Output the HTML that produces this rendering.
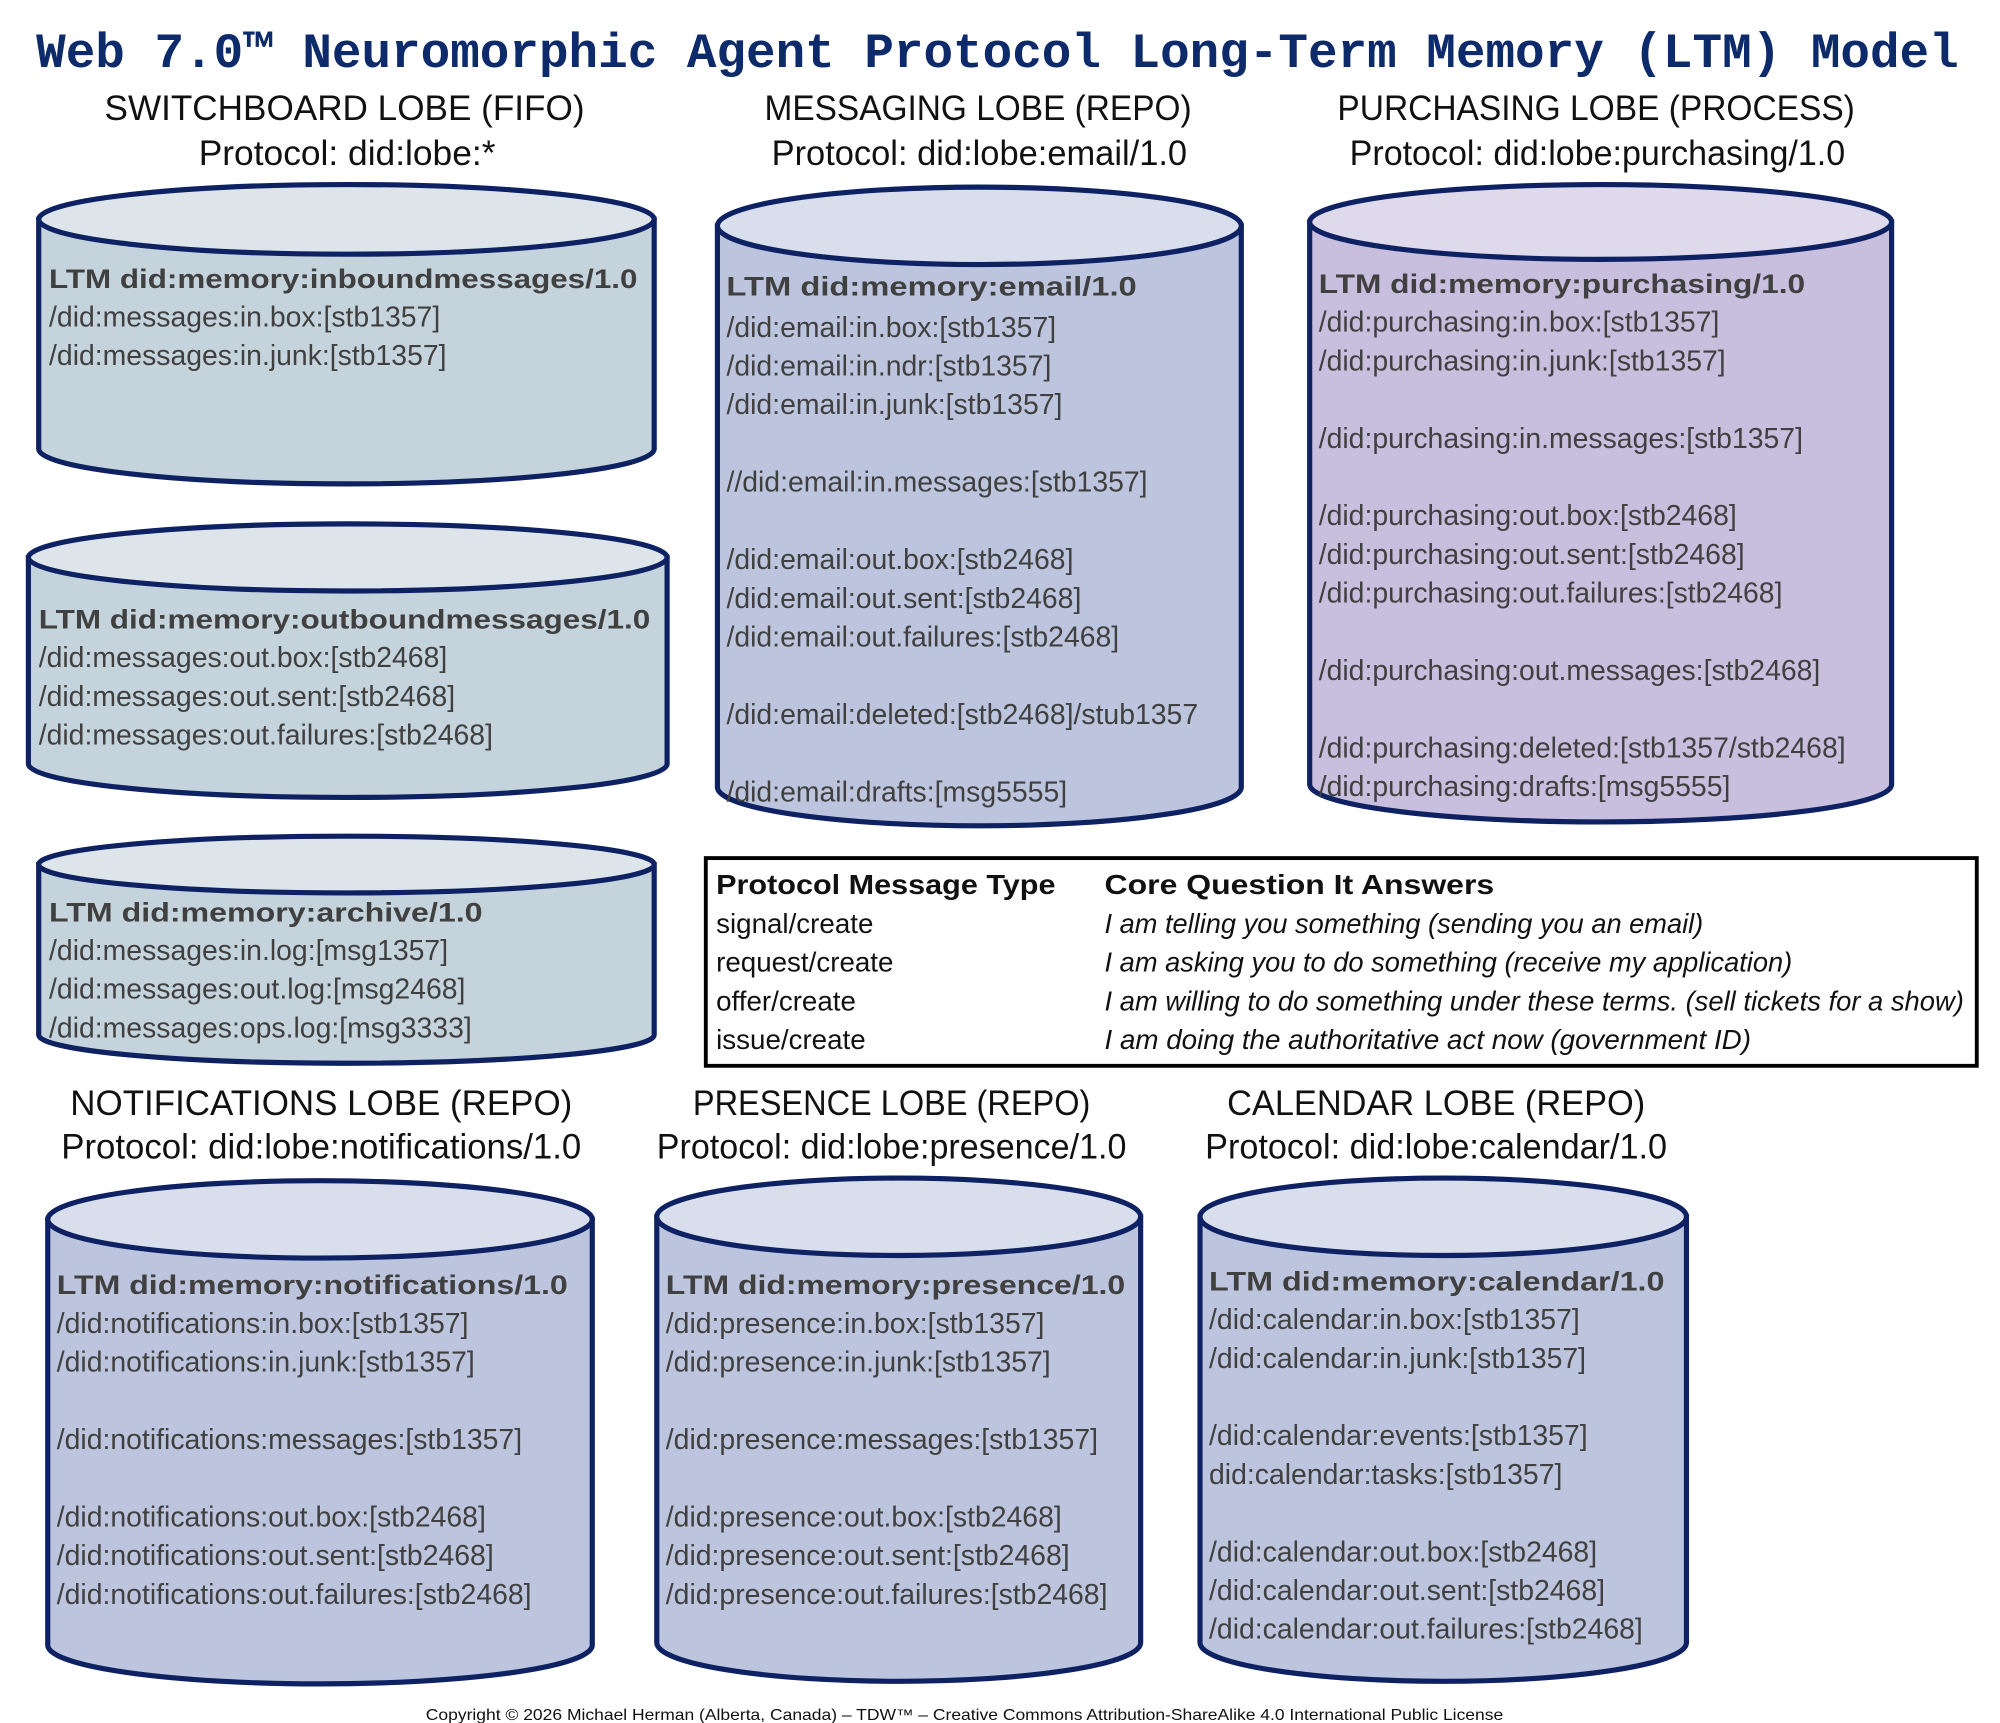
<!DOCTYPE html>
<html><head><meta charset="utf-8"><style>
html,body{margin:0;padding:0;background:#fff;}
svg{display:block;}
.h{font-family:"Liberation Sans",sans-serif;font-size:27px;fill:#111;text-anchor:middle;}
.b{font-family:"Liberation Sans",sans-serif;font-size:21px;font-weight:bold;fill:#404040;}
.t{font-family:"Liberation Sans",sans-serif;font-size:22px;fill:#404040;}
.k{font-family:"Liberation Sans",sans-serif;font-size:21.5px;fill:#111;}
.cyl{stroke:#0e2163;stroke-width:4;}
</style></head><body>
<svg width="2000" height="1723" viewBox="0 0 1550 1335.3" xmlns="http://www.w3.org/2000/svg">
<text x="28" y="52" textLength="1490" lengthAdjust="spacingAndGlyphs" style="font-family:'Liberation Mono',monospace;font-weight:bold;font-size:38px;fill:#0d2a6b;">Web 7.0™ Neuromorphic Agent Protocol Long-Term Memory (LTM) Model</text>

<text class="h" x="267" y="93" textLength="372" lengthAdjust="spacingAndGlyphs">SWITCHBOARD LOBE (FIFO)</text>
<text class="h" x="269" y="128" textLength="230" lengthAdjust="spacingAndGlyphs">Protocol: did:lobe:*</text>
<text class="h" x="758" y="93" textLength="331" lengthAdjust="spacingAndGlyphs">MESSAGING LOBE (REPO)</text>
<text class="h" x="759" y="128" textLength="322" lengthAdjust="spacingAndGlyphs">Protocol: did:lobe:email/1.0</text>
<text class="h" x="1237" y="93" textLength="401" lengthAdjust="spacingAndGlyphs">PURCHASING LOBE (PROCESS)</text>
<text class="h" x="1238" y="128" textLength="384" lengthAdjust="spacingAndGlyphs">Protocol: did:lobe:purchasing/1.0</text>
<text class="h" x="249" y="864" textLength="389" lengthAdjust="spacingAndGlyphs">NOTIFICATIONS LOBE (REPO)</text>
<text class="h" x="249" y="898" textLength="403" lengthAdjust="spacingAndGlyphs">Protocol: did:lobe:notifications/1.0</text>
<text class="h" x="691" y="864" textLength="308" lengthAdjust="spacingAndGlyphs">PRESENCE LOBE (REPO)</text>
<text class="h" x="691" y="898" textLength="364" lengthAdjust="spacingAndGlyphs">Protocol: did:lobe:presence/1.0</text>
<text class="h" x="1113" y="864" textLength="324" lengthAdjust="spacingAndGlyphs">CALENDAR LOBE (REPO)</text>
<text class="h" x="1113" y="898" textLength="358" lengthAdjust="spacingAndGlyphs">Protocol: did:lobe:calendar/1.0</text>

<path class="cyl" fill="#c5d3dc" d="M30,170 L30,348 A238.5,27 0 0 0 507,348 L507,170 Z"/>
<ellipse class="cyl" fill="#dde5ea" cx="268.5" cy="170" rx="238.5" ry="27"/>
<text class="b" x="38" y="223" textLength="456" lengthAdjust="spacingAndGlyphs">LTM did:memory:inboundmessages/1.0</text>
<text class="t" x="38" y="253">/did:messages:in.box:[stb1357]</text>
<text class="t" x="38" y="283">/did:messages:in.junk:[stb1357]</text>

<path class="cyl" fill="#c5d3dc" d="M22,432 L22,592 A247.5,26 0 0 0 517,592 L517,432 Z"/>
<ellipse class="cyl" fill="#dde5ea" cx="269.5" cy="432" rx="247.5" ry="26"/>
<text class="b" x="30" y="487" textLength="474" lengthAdjust="spacingAndGlyphs">LTM did:memory:outboundmessages/1.0</text>
<text class="t" x="30" y="517">/did:messages:out.box:[stb2468]</text>
<text class="t" x="30" y="547">/did:messages:out.sent:[stb2468]</text>
<text class="t" x="30" y="577">/did:messages:out.failures:[stb2468]</text>

<path class="cyl" fill="#c5d3dc" d="M30,670 L30,802 A238.5,22 0 0 0 507,802 L507,670 Z"/>
<ellipse class="cyl" fill="#dde5ea" cx="268.5" cy="670" rx="238.5" ry="22"/>
<text class="b" x="38" y="714" textLength="336" lengthAdjust="spacingAndGlyphs">LTM did:memory:archive/1.0</text>
<text class="t" x="38" y="744">/did:messages:in.log:[msg1357]</text>
<text class="t" x="38" y="774">/did:messages:out.log:[msg2468]</text>
<text class="t" x="38" y="804">/did:messages:ops.log:[msg3333]</text>

<path class="cyl" fill="#bcc5dd" d="M556,175 L556,610 A203,30 0 0 0 962,610 L962,175 Z"/>
<ellipse class="cyl" fill="#d8deeb" cx="759" cy="175" rx="203" ry="30"/>
<text class="b" x="563" y="229" textLength="318" lengthAdjust="spacingAndGlyphs">LTM did:memory:email/1.0</text>
<text class="t" x="563" y="261">/did:email:in.box:[stb1357]</text>
<text class="t" x="563" y="291">/did:email:in.ndr:[stb1357]</text>
<text class="t" x="563" y="321">/did:email:in.junk:[stb1357]</text>
<text class="t" x="563" y="381">//did:email:in.messages:[stb1357]</text>
<text class="t" x="563" y="441">/did:email:out.box:[stb2468]</text>
<text class="t" x="563" y="471">/did:email:out.sent:[stb2468]</text>
<text class="t" x="563" y="501">/did:email:out.failures:[stb2468]</text>
<text class="t" x="563" y="561">/did:email:deleted:[stb2468]/stub1357</text>
<text class="t" x="563" y="621">/did:email:drafts:[msg5555]</text>

<path class="cyl" fill="#c8bedd" d="M1015,172 L1015,608 A225.5,29 0 0 0 1466,608 L1466,172 Z"/>
<ellipse class="cyl" fill="#dedaec" cx="1240.5" cy="172" rx="225.5" ry="29"/>
<text class="b" x="1022" y="227" textLength="377" lengthAdjust="spacingAndGlyphs">LTM did:memory:purchasing/1.0</text>
<text class="t" x="1022" y="257">/did:purchasing:in.box:[stb1357]</text>
<text class="t" x="1022" y="287">/did:purchasing:in.junk:[stb1357]</text>
<text class="t" x="1022" y="347">/did:purchasing:in.messages:[stb1357]</text>
<text class="t" x="1022" y="407">/did:purchasing:out.box:[stb2468]</text>
<text class="t" x="1022" y="437">/did:purchasing:out.sent:[stb2468]</text>
<text class="t" x="1022" y="467">/did:purchasing:out.failures:[stb2468]</text>
<text class="t" x="1022" y="527">/did:purchasing:out.messages:[stb2468]</text>
<text class="t" x="1022" y="587">/did:purchasing:deleted:[stb1357/stb2468]</text>
<text class="t" x="1022" y="617">/did:purchasing:drafts:[msg5555]</text>

<rect x="547" y="665" width="985" height="161" fill="#fff" stroke="#000" stroke-width="3"/>
<text class="k" x="555" y="693" font-weight="bold" textLength="263" lengthAdjust="spacingAndGlyphs">Protocol Message Type</text>
<text class="k" x="856" y="693" font-weight="bold" textLength="302" lengthAdjust="spacingAndGlyphs">Core Question It Answers</text>
<text class="k" x="555" y="723">signal/create</text>
<text class="k" x="555" y="753">request/create</text>
<text class="k" x="555" y="783">offer/create</text>
<text class="k" x="555" y="813">issue/create</text>
<text class="k" x="856" y="723" font-style="italic" textLength="464" lengthAdjust="spacingAndGlyphs">I am telling you something (sending you an email)</text>
<text class="k" x="856" y="753" font-style="italic" textLength="533" lengthAdjust="spacingAndGlyphs">I am asking you to do something (receive my application)</text>
<text class="k" x="856" y="783" font-style="italic" textLength="666" lengthAdjust="spacingAndGlyphs">I am willing to do something under these terms. (sell tickets for a show)</text>
<text class="k" x="856" y="813" font-style="italic" textLength="501" lengthAdjust="spacingAndGlyphs">I am doing the authoritative act now (government ID)</text>

<path class="cyl" fill="#bcc5dd" d="M37,945 L37,1275 A211,30 0 0 0 459,1275 L459,945 Z"/>
<ellipse class="cyl" fill="#d8deeb" cx="248" cy="945" rx="211" ry="30"/>
<text class="b" x="44" y="1003" textLength="396" lengthAdjust="spacingAndGlyphs">LTM did:memory:notifications/1.0</text>
<text class="t" x="44" y="1033">/did:notifications:in.box:[stb1357]</text>
<text class="t" x="44" y="1063">/did:notifications:in.junk:[stb1357]</text>
<text class="t" x="44" y="1123">/did:notifications:messages:[stb1357]</text>
<text class="t" x="44" y="1183">/did:notifications:out.box:[stb2468]</text>
<text class="t" x="44" y="1213">/did:notifications:out.sent:[stb2468]</text>
<text class="t" x="44" y="1243">/did:notifications:out.failures:[stb2468]</text>

<path class="cyl" fill="#bcc5dd" d="M509,943 L509,1273 A187.5,30 0 0 0 884,1273 L884,943 Z"/>
<ellipse class="cyl" fill="#d8deeb" cx="696.5" cy="943" rx="187.5" ry="30"/>
<text class="b" x="516" y="1003" textLength="356" lengthAdjust="spacingAndGlyphs">LTM did:memory:presence/1.0</text>
<text class="t" x="516" y="1033">/did:presence:in.box:[stb1357]</text>
<text class="t" x="516" y="1063">/did:presence:in.junk:[stb1357]</text>
<text class="t" x="516" y="1123">/did:presence:messages:[stb1357]</text>
<text class="t" x="516" y="1183">/did:presence:out.box:[stb2468]</text>
<text class="t" x="516" y="1213">/did:presence:out.sent:[stb2468]</text>
<text class="t" x="516" y="1243">/did:presence:out.failures:[stb2468]</text>

<path class="cyl" fill="#bcc5dd" d="M930,943 L930,1273 A188.5,30 0 0 0 1307,1273 L1307,943 Z"/>
<ellipse class="cyl" fill="#d8deeb" cx="1118.5" cy="943" rx="188.5" ry="30"/>
<text class="b" x="937" y="1000" textLength="353" lengthAdjust="spacingAndGlyphs">LTM did:memory:calendar/1.0</text>
<text class="t" x="937" y="1030">/did:calendar:in.box:[stb1357]</text>
<text class="t" x="937" y="1060">/did:calendar:in.junk:[stb1357]</text>
<text class="t" x="937" y="1120">/did:calendar:events:[stb1357]</text>
<text class="t" x="937" y="1150">did:calendar:tasks:[stb1357]</text>
<text class="t" x="937" y="1210">/did:calendar:out.box:[stb2468]</text>
<text class="t" x="937" y="1240">/did:calendar:out.sent:[stb2468]</text>
<text class="t" x="937" y="1270">/did:calendar:out.failures:[stb2468]</text>

<text x="330" y="1333" textLength="835" lengthAdjust="spacingAndGlyphs" style="font-family:'Liberation Sans',sans-serif;font-size:12px;fill:#111;">Copyright © 2026 Michael Herman (Alberta, Canada) – TDW™ – Creative Commons Attribution-ShareAlike 4.0 International Public License</text>
</svg>
</body></html>
